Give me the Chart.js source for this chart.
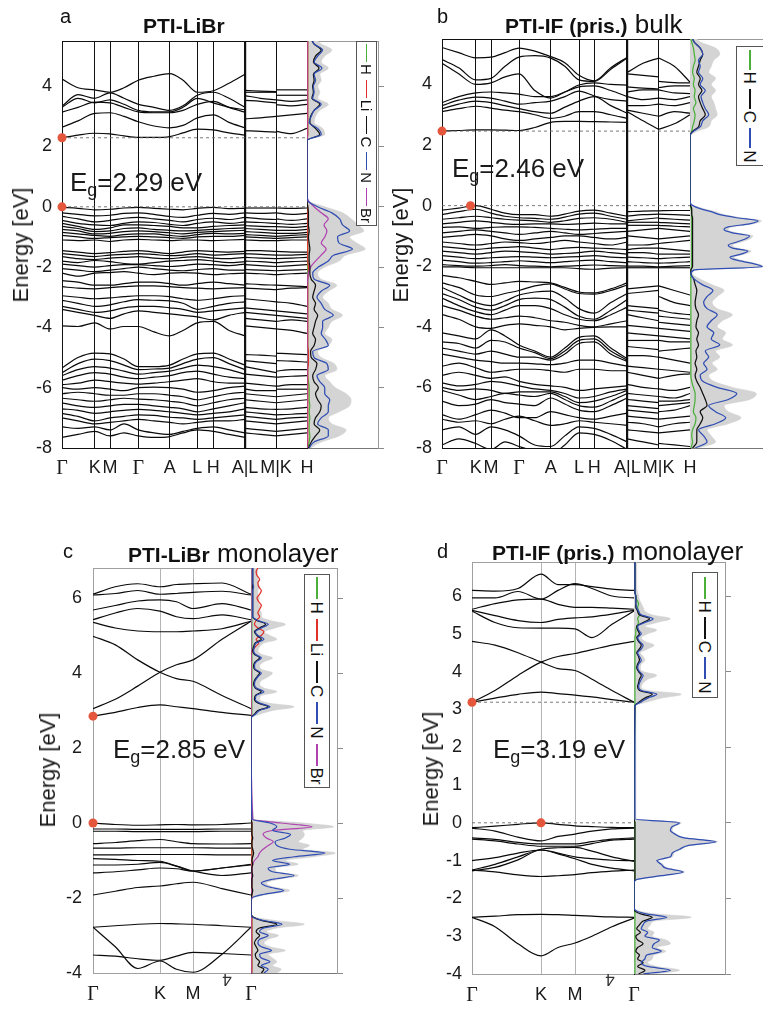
<!DOCTYPE html>
<html><head><meta charset="utf-8"><title>PTI band structures</title>
<script src="https://cdn.jsdelivr.net/npm/chart.js@4.4.1/dist/chart.umd.min.js"></script>
<style>
html,body{margin:0;padding:0;background:#fff;}
body{position:relative;width:763px;height:1010px;overflow:hidden;font-family:"Liberation Sans",Arial,Helvetica,sans-serif;color:#111;}
canvas{position:absolute;}
.t{position:absolute;white-space:nowrap;line-height:1;z-index:5;}
.eg{font-size:26px;color:#1a1a1a;}
.sub{font-size:18px;position:relative;top:5px;}
.yl{font-size:22px;transform:translate(-50%,-50%) rotate(-90deg);color:#1a1a1a;}
</style></head><body>
<div class="t" style="left:60px;top:6px;font-size:20px">a</div>
<div class="t" style="left:143px;top:15px;font-size:21px;font-weight:bold">PTI-LiBr</div>
<div class="t" style="left:437px;top:6px;font-size:20px">b</div>
<div class="t" style="left:505px;top:11px;font-size:26px"><b style="font-size:21px">PTI-IF (pris.)</b> bulk</div>
<div class="t" style="left:63px;top:541px;font-size:20px">c</div>
<div class="t" style="left:128px;top:540px;font-size:26px"><b style="font-size:21px">PTI-LiBr</b> monolayer</div>
<div class="t" style="left:437px;top:541px;font-size:20px">d</div>
<div class="t" style="left:492px;top:538px;font-size:26px"><b style="font-size:21px">PTI-IF (pris.)</b> monolayer</div>
<div class="t eg" style="left:70px;top:169px">E<span class="sub">g</span>=2.29 eV</div>
<div class="t eg" style="left:452px;top:155px">E<span class="sub">g</span>=2.46 eV</div>
<div class="t eg" style="left:113px;top:736px">E<span class="sub">g</span>=2.85 eV</div>
<div class="t eg" style="left:493px;top:736px">E<span class="sub">g</span>=3.19 eV</div>
<div class="t yl" style="left:21px;top:245px">Energy [eV]</div>
<div class="t yl" style="left:401px;top:245px">Energy [eV]</div>
<div class="t yl" style="left:48px;top:770px">Energy [eV]</div>
<div class="t yl" style="left:431px;top:769px">Energy [eV]</div>
<div class="t" style="left:227px;top:979px;font-size:17px;color:#333;transform:translate(-50%,-50%) rotate(180deg)">4</div>
<div class="t" style="left:610px;top:979px;font-size:17px;color:#333;transform:translate(-50%,-50%) rotate(180deg)">4</div>
<script>
// ---------------- DATA ----------------
const kLabelsBulk = ['Γ','K','M','Γ','A','L','H','A|L','M|K','H'];
const kLabelsMono = ['Γ','K','M','Γ'];
const yTicksBulk = [-8,-6,-4,-2,0,2,4];
const yTicksC = [-4,-2,0,2,4,6];
const yTicksD = [-4,-3,-2,-1,0,1,2,3,4,5,6];
const yTicksD_right = [-4,-2,0,2,4,6];

// Panel a: PTI-LiBr bulk
const kTicksA = [0,32.7,48,76.3,107.7,135.3,151.3,183,214,245];
const kMainA = [0,16,32.7,48,62,76.3,92,107.7,121,135.3,151.3,167,183];
const kLMA = [183,198.5,214];
const kKHA = [214,229.5,245];
const gapA = {vbm:[0,0], cbm:[0,2.29]};
const bandsA = [
[2.29,2.38,2.44,2.42,2.35,2.3,2.3,2.33,2.45,2.58,2.55,2.45,2.38, 2.53,2.5,2.48, 2.5,2.43,2.6],
[2.64,2.85,3.1,3.12,3.0,2.82,2.68,2.62,2.7,2.95,3.05,2.8,2.62, 2.92,2.95,3.0, 3.0,3.05,3.1],
[3.14,3.3,3.47,3.45,3.3,3.15,3.12,3.12,3.2,3.4,3.5,3.3,3.14, 3.53,3.5,3.45, 3.39,3.35,3.4],
[3.3,3.6,3.45,3.55,3.4,3.2,3.15,3.15,3.3,3.6,3.45,3.3,3.22, 3.69,3.6,3.55, 3.55,3.5,3.55],
[3.34,3.72,3.6,3.78,3.6,3.4,3.3,3.2,3.35,3.7,3.8,3.6,3.3, 3.8,3.8,3.8, 3.7,3.7,3.7],
[4.24,3.95,3.88,3.8,3.95,4.2,4.33,4.42,4.2,3.8,3.85,4.1,4.4, 3.86,3.84,3.82, 3.88,3.88,3.88],
[-0.02,-0.05,-0.1,-0.08,-0.04,-0.02,-0.05,-0.08,-0.1,-0.05,-0.02,-0.06,-0.05, -0.04,-0.04,-0.04, -0.04,-0.05,-0.04],
[-0.2,-0.25,-0.3,-0.28,-0.22,-0.2,-0.25,-0.32,-0.35,-0.28,-0.22,-0.25,-0.2, -0.2,-0.22,-0.2, -0.2,-0.25,-0.22],
[-0.32,-0.4,-0.5,-0.45,-0.38,-0.35,-0.4,-0.45,-0.5,-0.42,-0.38,-0.42,-0.35, -0.35,-0.4,-0.42, -0.4,-0.45,-0.4],
[-0.45,-0.55,-0.6,-0.62,-0.55,-0.5,-0.52,-0.58,-0.62,-0.55,-0.5,-0.55,-0.5, -0.5,-0.52,-0.55, -0.55,-0.58,-0.55],
[-0.55,-0.65,-0.75,-0.7,-0.6,-0.6,-0.62,-0.65,-0.7,-0.7,-0.65,-0.62,-0.6, -0.62,-0.65,-0.66, -0.66,-0.68,-0.65],
[-0.65,-0.72,-0.82,-0.8,-0.72,-0.7,-0.75,-0.78,-0.8,-0.78,-0.75,-0.72,-0.7, -0.72,-0.75,-0.78, -0.78,-0.78,-0.75],
[-0.75,-0.8,-0.9,-0.88,-0.82,-0.8,-0.82,-0.86,-0.9,-0.85,-0.82,-0.8,-0.78, -0.82,-0.85,-0.88, -0.88,-0.88,-0.85],
[-0.85,-0.9,-0.95,-0.98,-0.92,-0.9,-0.9,-0.95,-0.98,-0.92,-0.88,-0.9,-0.88, -0.92,-0.95,-0.98, -0.98,-0.95,-0.92],
[-0.95,-1.0,-1.05,-1.02,-1.0,-0.98,-1.0,-1.02,-1.05,-1.0,-0.98,-0.98,-0.95, -1.0,-1.02,-1.05, -1.05,-1.02,-1.0],
[-1.1,-1.12,-1.1,-1.15,-1.1,-1.08,-1.1,-1.12,-1.1,-1.1,-1.12,-1.1,-1.08, -1.1,-1.12,-1.12, -1.12,-1.1,-1.1],
[-1.45,-1.5,-1.55,-1.52,-1.48,-1.45,-1.5,-1.55,-1.5,-1.45,-1.48,-1.5,-1.48, -1.45,-1.45,-1.48, -1.48,-1.5,-1.5],
[-1.55,-1.6,-1.65,-1.6,-1.58,-1.55,-1.58,-1.62,-1.6,-1.55,-1.6,-1.58,-1.55, -1.55,-1.58,-1.6, -1.6,-1.6,-1.58],
[-1.65,-1.72,-1.75,-1.7,-1.68,-1.65,-1.7,-1.72,-1.68,-1.65,-1.7,-1.72,-1.68, -1.68,-1.7,-1.72, -1.72,-1.7,-1.68],
[-1.8,-1.85,-1.78,-1.82,-1.88,-1.9,-1.85,-1.8,-1.78,-1.75,-1.8,-1.85,-1.82, -1.8,-1.82,-1.85, -1.85,-1.82,-1.8],
[-1.9,-1.95,-2.0,-1.95,-1.92,-1.92,-1.95,-1.98,-1.95,-1.9,-1.92,-1.95,-1.9, -1.92,-1.95,-1.98, -1.98,-1.95,-1.92],
[-2.05,-2.1,-2.15,-2.1,-2.05,-2.0,-2.05,-2.1,-2.12,-2.08,-2.05,-2.1,-2.1, -2.08,-2.1,-2.12, -2.12,-2.1,-2.08],
[-2.2,-2.3,-2.2,-2.18,-2.15,-2.2,-2.25,-2.2,-2.18,-2.2,-2.25,-2.22,-2.2, -2.2,-2.22,-2.25, -2.25,-2.22,-2.2],
[-2.45,-2.5,-2.6,-2.6,-2.55,-2.5,-2.5,-2.55,-2.6,-2.55,-2.5,-2.55,-2.6, -2.55,-2.58,-2.6, -2.6,-2.62,-2.65],
[-2.65,-2.7,-2.72,-2.68,-2.65,-2.62,-2.62,-2.65,-2.68,-2.7,-2.72,-2.7,-2.68, -2.7,-2.72,-2.75, -2.75,-2.7,-2.68],
[-2.95,-3.0,-3.05,-3.02,-2.98,-2.95,-2.95,-2.98,-3.05,-3.1,-3.05,-2.98,-2.95, -3.05,-3.1,-3.15, -3.15,-3.2,-3.3],
[-3.1,-3.2,-3.3,-3.25,-3.15,-3.08,-3.1,-3.12,-3.2,-3.4,-3.3,-3.2,-3.15, -3.35,-3.4,-3.45, -3.45,-3.5,-3.55],
[-3.3,-3.4,-3.5,-3.45,-3.35,-3.3,-3.3,-3.35,-3.4,-3.5,-3.45,-3.4,-3.35, -3.5,-3.55,-3.6, -3.6,-3.65,-3.7],
[-3.4,-3.5,-3.6,-3.7,-3.55,-3.45,-3.5,-3.55,-3.6,-3.65,-3.75,-3.6,-3.5, -3.7,-3.75,-3.8, -3.8,-3.75,-3.8],
[-3.95,-3.97,-3.85,-4.05,-3.97,-3.97,-4.15,-4.28,-4.1,-3.85,-3.8,-4.1,-4.28, -3.95,-4.0,-4.05, -4.05,-4.1,-4.2],
[-5.35,-5.0,-4.85,-4.88,-5.05,-5.3,-5.3,-5.25,-5.05,-4.88,-4.85,-5.05,-5.25, -4.9,-4.92,-4.95, -4.85,-4.88,-4.9],
[-5.5,-5.2,-5.05,-5.1,-5.25,-5.4,-5.38,-5.35,-5.2,-5.05,-5.0,-5.2,-5.4, -5.1,-5.15,-5.2, -5.1,-5.12,-5.15],
[-5.6,-5.4,-5.3,-5.35,-5.45,-5.55,-5.5,-5.45,-5.35,-5.25,-5.3,-5.4,-5.55, -5.3,-5.4,-5.5, -5.45,-5.4,-5.4],
[-5.75,-5.6,-5.5,-5.55,-5.65,-5.7,-5.65,-5.6,-5.5,-5.45,-5.55,-5.65,-5.7, -5.55,-5.6,-5.65, -5.65,-5.62,-5.6],
[-5.9,-5.85,-5.75,-5.8,-5.85,-5.88,-5.85,-5.8,-5.75,-5.7,-5.8,-5.85,-5.85, -5.85,-5.9,-5.95, -5.95,-5.9,-5.9],
[-6.0,-6.05,-6.0,-6.05,-6.1,-6.0,-5.98,-6.0,-6.05,-6.15,-6.1,-6.0,-5.95, -6.05,-6.1,-6.1, -6.05,-6.05,-6.05],
[-6.2,-6.15,-6.2,-6.25,-6.25,-6.2,-6.2,-6.25,-6.3,-6.4,-6.3,-6.2,-6.15, -6.2,-6.25,-6.3, -6.3,-6.25,-6.2],
[-6.35,-6.4,-6.45,-6.4,-6.35,-6.38,-6.4,-6.45,-6.5,-6.6,-6.5,-6.4,-6.35, -6.4,-6.45,-6.5, -6.5,-6.45,-6.4],
[-6.5,-6.6,-6.65,-6.6,-6.55,-6.55,-6.6,-6.65,-6.7,-6.8,-6.7,-6.6,-6.5, -6.65,-6.7,-6.72, -6.72,-6.7,-6.65],
[-6.7,-6.75,-6.85,-6.8,-6.75,-6.72,-6.75,-6.8,-6.85,-6.9,-6.85,-6.8,-6.7, -6.8,-6.85,-6.9, -6.9,-6.88,-6.85],
[-6.85,-6.95,-7.1,-7.0,-6.95,-6.9,-6.92,-6.98,-7.0,-7.05,-7.0,-6.95,-6.9, -6.95,-7.0,-7.05, -7.05,-7.0,-6.98],
[-7.0,-7.1,-7.2,-7.15,-7.1,-7.05,-7.1,-7.15,-7.2,-7.15,-7.1,-7.1,-7.05, -7.1,-7.15,-7.2, -7.2,-7.15,-7.1],
[-7.3,-7.35,-7.3,-7.4,-7.2,-7.4,-7.5,-7.55,-7.45,-7.35,-7.3,-7.4,-7.5, -7.35,-7.4,-7.45, -7.45,-7.4,-7.35],
[-7.65,-7.55,-7.45,-7.6,-7.5,-7.6,-7.65,-7.62,-7.5,-7.4,-7.45,-7.55,-7.65, -7.5,-7.55,-7.6, -7.6,-7.55,-7.5]
];
const dosEA = [-8,-7.8,-7.6,-7.4,-7.2,-7,-6.8,-6.6,-6.4,-6.2,-6,-5.8,-5.6,-5.4,-5.2,-5,-4.8,-4.6,-4.4,-4.2,-4,-3.8,-3.6,-3.4,-3.2,-3,-2.8,-2.6,-2.4,-2.2,-2,-1.8,-1.6,-1.4,-1.2,-1,-0.8,-0.6,-0.4,-0.2,0,0.2,0.4,2.2,2.4,2.6,2.8,3,3.2,3.4,3.6,3.8,4,4.2,4.4,4.6,4.8,5,5.2,5.4,5.5];
const dosTotA = [0.05,0.2,0.45,0.55,0.35,0.3,0.45,0.6,0.62,0.55,0.4,0.32,0.25,0.42,0.38,0.2,0.15,0.3,0.35,0.25,0.3,0.35,0.5,0.35,0.3,0.22,0.3,0.42,0.2,0.15,0.25,0.45,0.55,0.82,0.7,0.6,0.8,0.72,0.62,0.5,0.25,0.02,0,0,0.25,0.22,0.1,0.12,0.18,0.3,0.15,0.18,0.15,0.2,0.18,0.3,0.2,0.25,0.35,0.2,0.15];
const dosNA = [0.03,0.1,0.3,0.3,0.15,0.2,0.3,0.3,0.32,0.25,0.25,0.18,0.14,0.3,0.28,0.1,0.08,0.3,0.26,0.2,0.22,0.22,0.37,0.25,0.2,0.14,0.2,0.32,0.1,0.08,0.16,0.3,0.38,0.64,0.45,0.43,0.6,0.5,0.46,0.35,0.15,0.01,0,0,0.2,0.15,0.03,0.06,0.1,0.2,0.08,0.1,0.09,0.12,0.1,0.21,0.1,0.15,0.22,0.1,0.08];
const dosCA = [0.02,0.06,0.12,0.18,0.1,0.12,0.18,0.2,0.15,0.12,0.16,0.1,0.08,0.12,0.14,0.06,0.05,0.1,0.12,0.08,0.1,0.12,0.15,0.1,0.12,0.08,0.1,0.12,0.06,0.04,0.04,0.03,0.03,0.04,0.03,0.02,0.03,0.02,0.02,0.02,0.01,0,0,0,0.18,0.12,0.04,0.05,0.1,0.18,0.07,0.09,0.08,0.1,0.09,0.17,0.09,0.12,0.2,0.1,0.07];
const dosBrA = [0,0,0,0,0,0,0,0,0,0,0,0,0,0,0,0,0,0,0,0,0,0,0,0,0,0,0,0,0.01,0.02,0.05,0.12,0.2,0.27,0.2,0.25,0.28,0.24,0.3,0.2,0.1,0.02,0,0,0,0,0,0,0,0,0,0,0,0,0,0,0,0,0,0,0];
const dosLiA = [0,0.01,0.01,0.01,0.01,0.01,0.01,0.01,0.01,0.01,0.01,0.01,0.01,0.01,0.02,0.02,0.02,0.01,0.01,0.01,0.01,0.01,0.01,0.01,0.01,0.01,0.01,0.01,0.01,0.02,0.02,0.01,0.01,0.01,0.01,0.01,0.01,0.01,0.01,0.01,0.01,0,0,0,0.01,0.01,0.01,0.01,0.01,0.01,0.01,0.01,0.01,0.01,0.01,0.01,0.01,0.01,0.01,0.01,0.01];
const dosHA = [0.01,0.03,0.04,0.03,0.03,0.04,0.03,0.04,0.03,0.03,0.03,0.02,0.01,0.01,0.01,0.01,0.01,0.01,0.01,0.01,0.01,0.01,0.01,0.01,0.01,0.01,0.01,0.01,0.01,0.01,0.01,0.01,0.01,0.01,0.01,0.01,0.01,0.01,0.01,0.01,0.01,0,0,0,0.01,0.01,0.01,0.01,0.01,0.01,0.01,0.01,0.01,0.01,0.01,0.01,0.01,0.01,0.01,0.01,0.01];

// Panel b: PTI-IF (pris.) bulk
const kTicksB = [0,33.7,49,77,108.7,137,152.3,185.3,216.7,248];
const kMainB = [0,16.7,33.7,49,63,77,92.8,108.7,122.8,137,152.3,168.8,185.3];
const kLMB = [185.3,201,216.7];
const kKHB = [216.7,232.3,248];
const gapB = {vbm:[28.5,0], cbm:[0,2.46]};
const bandsB = [
[2.46,2.48,2.5,2.5,2.49,2.48,2.58,2.75,2.78,2.78,2.77,2.76,2.75, 3.1,2.8,2.52, 2.52,2.7,3.0],
[3.1,3.2,3.28,3.22,3.15,3.1,3.0,2.88,2.95,3.1,3.1,3.0,2.88, 3.15,3.05,2.95, 2.95,3.1,3.05],
[3.2,3.35,3.45,3.4,3.3,3.2,3.1,3.05,3.25,3.45,3.6,3.3,3.05, 3.3,3.3,3.35, 3.35,3.3,3.4],
[3.3,3.48,3.58,3.55,3.45,3.35,3.4,3.45,3.6,3.78,3.62,3.5,3.45, 3.6,3.5,3.55, 3.55,3.5,3.6],
[3.4,3.6,3.72,3.75,3.72,3.68,3.6,3.6,3.75,3.92,3.95,3.8,3.6, 3.75,3.82,3.82, 3.82,3.72,3.7],
[4.7,4.35,4.0,4.05,4.25,4.35,3.8,3.55,3.75,3.98,4.05,4.0,3.98, 3.92,3.88,3.85, 3.9,3.95,3.95],
[4.82,4.55,4.15,4.2,4.6,4.9,4.95,4.87,4.6,4.15,4.1,4.5,4.87, 4.4,4.7,4.87, 4.87,4.6,4.08],
[5.22,5.05,4.88,4.9,5.05,5.2,5.1,4.92,4.72,4.3,4.12,4.55,4.9, 4.35,4.3,4.25, 4.1,4.06,4.05],
[-0.15,-0.08,0.0,-0.12,-0.25,-0.3,-0.3,-0.35,-0.28,-0.18,-0.15,-0.25,-0.35, -0.2,-0.18,-0.17, -0.17,-0.16,-0.16],
[-0.3,-0.2,-0.12,-0.25,-0.35,-0.4,-0.42,-0.45,-0.38,-0.28,-0.25,-0.35,-0.45, -0.35,-0.3,-0.28, -0.28,-0.3,-0.32],
[-0.45,-0.4,-0.35,-0.4,-0.45,-0.48,-0.5,-0.55,-0.5,-0.42,-0.4,-0.45,-0.55, -0.5,-0.45,-0.4, -0.42,-0.45,-0.48],
[-0.6,-0.55,-0.5,-0.55,-0.6,-0.62,-0.6,-0.6,-0.62,-0.6,-0.58,-0.6,-0.6, -0.55,-0.55,-0.55, -0.55,-0.58,-0.6],
[-0.72,-0.7,-0.75,-0.72,-0.7,-0.7,-0.72,-0.75,-0.78,-0.8,-0.78,-0.75,-0.75, -0.65,-0.65,-0.65, -0.65,-0.68,-0.7],
[-0.9,-0.85,-0.8,-0.85,-0.9,-0.95,-0.9,-0.85,-0.9,-0.95,-0.92,-0.88,-0.85, -0.85,-0.8,-0.75, -0.75,-0.8,-0.85],
[-1.05,-1.0,-0.95,-1.0,-1.1,-1.15,-1.1,-1.05,-1.0,-1.0,-1.05,-1.1,-1.05, -1.0,-1.05,-1.1, -1.1,-1.05,-1.0],
[-1.2,-1.25,-1.3,-1.25,-1.2,-1.22,-1.25,-1.2,-1.15,-1.2,-1.25,-1.3,-1.2, -1.3,-1.3,-1.25, -1.25,-1.2,-1.15],
[-1.35,-1.4,-1.45,-1.4,-1.38,-1.35,-1.4,-1.45,-1.4,-1.38,-1.4,-1.42,-1.45, -1.45,-1.4,-1.4, -1.4,-1.45,-1.5],
[-1.5,-1.55,-1.6,-1.55,-1.5,-1.52,-1.55,-1.6,-1.58,-1.55,-1.5,-1.55,-1.6, -1.55,-1.55,-1.6, -1.6,-1.6,-1.6],
[-1.65,-1.7,-1.75,-1.72,-1.7,-1.68,-1.7,-1.72,-1.7,-1.68,-1.65,-1.7,-1.72, -1.7,-1.72,-1.75, -1.75,-1.72,-1.7],
[-1.8,-1.85,-1.9,-1.88,-1.85,-1.82,-1.85,-1.88,-1.85,-1.82,-1.8,-1.85,-1.88, -1.85,-1.88,-1.9, -1.9,-1.88,-1.85],
[-1.95,-1.98,-2.0,-1.98,-1.95,-1.98,-2.0,-2.02,-2.0,-1.98,-1.96,-1.98,-2.0, -2.0,-2.0,-2.02, -2.02,-2.0,-1.98],
[-2.02,-2.02,-2.05,-2.05,-2.05,-2.05,-2.05,-2.05,-2.05,-2.08,-2.1,-2.06,-2.05, -2.05,-2.05,-2.05, -2.05,-2.05,-2.05],
[-2.3,-2.38,-2.5,-2.6,-2.55,-2.5,-2.52,-2.55,-2.7,-2.85,-2.88,-2.75,-2.55, -2.75,-2.7,-2.65, -2.65,-2.8,-2.95],
[-2.55,-2.7,-2.95,-3.0,-2.9,-2.8,-2.65,-2.58,-2.75,-2.9,-2.92,-2.8,-2.62, -2.9,-2.85,-2.8, -3.0,-3.2,-3.3],
[-2.7,-2.95,-3.2,-3.3,-3.15,-2.95,-2.85,-2.82,-3.05,-3.4,-3.55,-3.2,-2.9, -3.3,-3.35,-3.4, -3.45,-3.55,-3.6],
[-2.9,-3.1,-3.35,-3.45,-3.3,-3.1,-3.05,-3.1,-3.35,-3.65,-3.75,-3.45,-3.1, -3.45,-3.5,-3.55, -3.65,-3.7,-3.75],
[-3.05,-3.3,-3.5,-3.6,-3.45,-3.3,-3.3,-3.4,-3.6,-3.75,-3.8,-3.6,-3.35, -3.6,-3.7,-3.8, -3.85,-3.9,-3.95],
[-3.3,-3.45,-3.65,-3.75,-3.7,-3.65,-3.7,-3.8,-3.85,-3.95,-4.0,-3.9,-3.8, -3.95,-4.0,-4.05, -4.05,-4.1,-4.15],
[-3.6,-3.75,-4.0,-4.05,-3.95,-3.9,-3.95,-4.0,-4.1,-4.05,-4.02,-4.0,-4.0, -4.2,-4.25,-4.3, -4.3,-4.35,-4.4],
[-4.2,-4.3,-4.4,-4.1,-4.3,-4.6,-4.8,-5.0,-4.7,-4.35,-4.3,-4.7,-5.05, -4.45,-4.45,-4.45, -4.45,-4.5,-4.5],
[-4.5,-4.55,-4.7,-4.45,-4.5,-4.7,-4.85,-5.05,-4.8,-4.45,-4.4,-4.8,-5.1, -4.65,-4.7,-4.75, -4.8,-4.75,-4.7],
[-4.7,-4.8,-4.9,-4.8,-4.9,-5.0,-5.0,-5.1,-4.9,-4.55,-4.5,-4.9,-5.15, -4.95,-4.95,-5.0, -5.0,-5.1,-5.2],
[-4.9,-5.0,-5.1,-5.15,-5.2,-5.2,-5.22,-5.25,-5.2,-5.1,-5.1,-5.2,-5.3, -5.3,-5.35,-5.4, -5.4,-5.45,-5.5],
[-5.3,-5.2,-5.35,-5.5,-5.45,-5.4,-5.4,-5.45,-5.5,-5.4,-5.4,-5.45,-5.45, -5.5,-5.6,-5.7, -5.7,-5.6,-5.55],
[-5.6,-5.5,-5.6,-5.7,-5.65,-5.8,-5.9,-5.95,-6.0,-6.1,-6.05,-6.0,-5.95, -5.9,-6.0,-6.05, -6.05,-6.1,-6.0],
[-5.85,-5.95,-5.9,-5.8,-5.85,-5.95,-6.05,-6.1,-6.2,-6.35,-6.3,-6.15,-6.05, -6.2,-6.25,-6.3, -6.3,-6.35,-6.2],
[-6.0,-6.1,-6.05,-6.1,-6.2,-6.15,-6.15,-6.15,-6.3,-6.5,-6.45,-6.3,-6.1, -6.4,-6.45,-6.5, -6.45,-6.45,-6.4],
[-6.1,-6.25,-6.4,-6.3,-6.2,-6.25,-6.3,-6.2,-6.4,-6.6,-6.65,-6.45,-6.2, -6.6,-6.65,-6.7, -6.6,-6.55,-6.5],
[-6.45,-6.6,-6.55,-6.4,-6.5,-6.55,-6.6,-6.35,-6.55,-6.75,-6.8,-6.6,-6.35, -6.75,-6.8,-6.85, -6.8,-6.75,-6.6],
[-6.9,-7.05,-6.9,-6.75,-6.85,-7.0,-7.0,-6.8,-6.9,-7.0,-7.05,-6.95,-6.85, -6.95,-7.0,-7.05, -7.05,-7.0,-6.95],
[-7.05,-7.15,-7.1,-7.2,-7.05,-6.95,-7.1,-7.25,-7.2,-7.1,-7.15,-7.2,-7.25, -7.15,-7.2,-7.3, -7.3,-7.2,-7.15],
[-7.4,-7.3,-7.55,-7.3,-7.4,-7.6,-7.9,-7.95,-7.6,-7.3,-7.35,-7.55,-7.8, -7.4,-7.45,-7.5, -7.5,-7.45,-7.4],
[-7.9,-7.7,-7.85,-8.05,-7.8,-7.95,-8.1,-8.2,-7.9,-7.5,-7.55,-7.75,-8.05, -7.7,-7.8,-7.9, -7.85,-7.9,-7.95]
];
const dosEB = [-8,-7.8,-7.6,-7.4,-7.2,-7,-6.8,-6.6,-6.4,-6.2,-6,-5.8,-5.6,-5.4,-5.2,-5,-4.8,-4.6,-4.4,-4.2,-4,-3.8,-3.6,-3.4,-3.2,-3,-2.8,-2.6,-2.4,-2.25,-2.12,-2.02,-1.9,-1.8,-1.7,-1.6,-1.5,-1.4,-1.3,-1.2,-1.1,-1,-0.9,-0.8,-0.7,-0.6,-0.5,-0.4,-0.3,-0.2,-0.1,0.05,0.2,2.3,2.45,2.6,2.8,3,3.2,3.4,3.6,3.8,4,4.2,4.4,4.6,4.8,5,5.2,5.4,5.5];
const dosNB = [0.06,0.2,0.16,0.1,0.3,0.42,0.3,0.22,0.45,0.55,0.32,0.15,0.12,0.2,0.16,0.22,0.18,0.35,0.25,0.28,0.2,0.25,0.32,0.2,0.16,0.2,0.27,0.14,0.04,0.01,0.05,0.85,0.72,0.55,0.47,0.6,0.68,0.5,0.45,0.55,0.65,0.7,0.5,0.4,0.45,0.7,0.8,0.55,0.35,0.25,0.12,0.01,0,0,0.04,0.12,0.15,0.22,0.18,0.15,0.13,0.18,0.12,0.15,0.1,0.12,0.1,0.15,0.12,0.05,0.03];
const dosTotB = [0.1,0.3,0.25,0.2,0.45,0.6,0.45,0.4,0.7,0.78,0.5,0.28,0.22,0.32,0.26,0.35,0.3,0.5,0.38,0.42,0.32,0.38,0.5,0.32,0.26,0.32,0.4,0.25,0.1,0.03,0.07,0.88,0.76,0.6,0.52,0.64,0.72,0.55,0.5,0.6,0.7,0.74,0.55,0.45,0.5,0.74,0.84,0.6,0.4,0.3,0.16,0.02,0,0,0.08,0.22,0.25,0.32,0.3,0.28,0.25,0.3,0.25,0.3,0.22,0.25,0.28,0.35,0.3,0.12,0.08];
const dosCB = [0.03,0.08,0.08,0.08,0.12,0.15,0.12,0.2,0.18,0.15,0.12,0.08,0.06,0.08,0.06,0.08,0.07,0.1,0.08,0.1,0.07,0.08,0.1,0.07,0.06,0.07,0.08,0.06,0.04,0.01,0.01,0.03,0.03,0.03,0.03,0.03,0.03,0.03,0.03,0.03,0.03,0.03,0.03,0.03,0.03,0.03,0.03,0.03,0.02,0.02,0.02,0,0,0,0.03,0.1,0.12,0.18,0.15,0.12,0.1,0.14,0.1,0.12,0.08,0.1,0.12,0.15,0.12,0.05,0.03];
const dosHB = [0.01,0.03,0.02,0.03,0.06,0.07,0.04,0.05,0.06,0.06,0.04,0.02,0.01,0.01,0.01,0.01,0.01,0.01,0.01,0.01,0.01,0.01,0.01,0.01,0.01,0.01,0.01,0.01,0.01,0.01,0.01,0.02,0.02,0.02,0.02,0.02,0.02,0.02,0.02,0.02,0.02,0.02,0.02,0.02,0.02,0.02,0.02,0.02,0.02,0.02,0.01,0,0,0,0.02,0.03,0.05,0.06,0.04,0.07,0.05,0.06,0.04,0.05,0.03,0.04,0.06,0.05,0.04,0.02,0.01];

// Panel c: PTI-LiBr monolayer
const kTicksC = [0,67,100,158];
const kMainC = [0,22.3,44.7,67,83.5,100,129,158];
const gapC = {vbm:[0,0], cbm:[0,2.85]};
const bandsC = [
[2.85,2.95,3.08,3.15,3.1,3.05,2.95,2.87],
[3.05,3.3,3.65,4.02,4.22,4.35,4.9,5.38],
[4.98,4.75,4.35,4.02,3.85,3.78,3.4,3.05],
[5.35,5.2,5.12,5.1,5.1,5.12,5.18,5.38],
[5.42,5.6,5.72,5.65,5.5,5.45,5.55,5.42],
[5.68,5.8,5.92,5.95,5.9,5.72,5.85,5.68],
[6.1,6.3,6.38,6.3,6.36,6.38,6.4,6.1],
[6.08,6.12,6.2,6.1,6.12,6.15,6.18,6.08],
[0,-0.04,-0.06,-0.05,-0.04,-0.05,-0.04,0],
[-0.16,-0.16,-0.17,-0.17,-0.17,-0.17,-0.16,-0.16],
[-0.22,-0.22,-0.23,-0.23,-0.23,-0.23,-0.22,-0.22],
[-0.55,-0.52,-0.47,-0.44,-0.5,-0.55,-0.56,-0.55],
[-0.67,-0.67,-0.66,-0.66,-0.66,-0.66,-0.67,-0.67],
[-0.85,-0.85,-0.84,-0.84,-0.84,-0.84,-0.85,-0.85],
[-0.95,-0.97,-1.0,-1.02,-1.15,-1.28,-1.2,-1.12],
[-1.12,-1.12,-1.1,-1.05,-1.15,-1.28,-1.4,-1.33],
[-1.33,-1.3,-1.25,-1.2,-1.22,-1.28,-1.2,-1.1],
[-1.92,-1.82,-1.72,-1.68,-1.62,-1.58,-1.75,-1.92],
[-2.78,-2.74,-2.7,-2.68,-2.69,-2.7,-2.74,-2.78],
[-2.78,-3.3,-3.88,-3.68,-3.9,-3.98,-3.5,-2.78],
[-3.52,-3.55,-3.62,-3.66,-3.55,-3.45,-3.48,-3.52]
];
const dosEC = [-4,-3.9,-3.8,-3.7,-3.6,-3.5,-3.4,-3.3,-3.2,-3.1,-3,-2.9,-2.8,-2.7,-2.6,-2.5,-2.4,-2.3,-2.2,-2.1,-2,-1.9,-1.8,-1.7,-1.6,-1.5,-1.4,-1.3,-1.2,-1.1,-1,-0.9,-0.8,-0.7,-0.6,-0.5,-0.4,-0.3,-0.2,-0.1,0,0.1,2.8,2.9,3,3.1,3.2,3.3,3.4,3.5,3.6,3.7,3.8,3.9,4,4.1,4.2,4.3,4.4,4.5,4.6,4.7,4.8,4.9,5,5.1,5.2,5.3,5.4,5.5,5.6,5.7,5.8,5.9,6,6.1,6.2,6.3,6.4,6.5,6.6,6.7,6.8];
const dosNC = [0.15,0.2,0.12,0.22,0.12,0.1,0.24,0.12,0.08,0.1,0.2,0.1,0.15,0.36,0.15,0.01,0,0,0,0,0.01,0.15,0.38,0.2,0.12,0.25,0.5,0.25,0.2,0.45,0.25,0.5,0.86,0.45,0.3,0.28,0.4,0.46,0.25,0.3,0.22,0.01,
 0,0.05,0.1,0.22,0.1,0.05,0.06,0.15,0.06,0.04,0.05,0.08,0.12,0.05,0.04,0.06,0.12,0.05,0.03,0.04,0.06,0.15,0.08,0.05,0.12,0.2,0.08,0.02,0.02,0.02,0.02,0.02,0.02,0.02,0.02,0.03,0.02,0.02,0.02,0.02,0.02];
const dosTotC = [0.3,0.35,0.25,0.3,0.25,0.2,0.4,0.22,0.15,0.2,0.32,0.18,0.3,0.62,0.28,0.03,0,0,0,0,0.02,0.2,0.45,0.25,0.18,0.32,0.55,0.3,0.28,0.55,0.4,0.72,0.98,0.6,0.68,0.55,0.6,0.62,0.6,0.96,0.6,0.03,
 0,0.1,0.25,0.5,0.2,0.1,0.12,0.3,0.15,0.1,0.12,0.2,0.25,0.12,0.1,0.15,0.25,0.12,0.08,0.1,0.15,0.3,0.22,0.15,0.28,0.4,0.22,0.12,0.12,0.1,0.1,0.08,0.1,0.08,0.08,0.1,0.08,0.08,0.07,0.08,0.07];
const dosBrC = [0,0,0,0,0,0,0,0,0,0,0,0,0,0,0,0,0,0,0,0,0,0,0,0,0.01,0.01,0.01,0.01,0.01,0.02,0.04,0.08,0.1,0.14,0.2,0.26,0.18,0.14,0.25,0.71,0.35,0.02,
 0,0,0,0,0,0,0,0,0,0,0,0,0,0,0,0,0,0,0,0,0,0,0,0,0,0,0,0,0,0,0,0,0,0,0,0,0,0,0,0,0];
const dosCC = [0.12,0.15,0.08,0.1,0.06,0.05,0.08,0.06,0.04,0.06,0.1,0.06,0.1,0.3,0.12,0.02,0,0,0,0,0,0.01,0.02,0.01,0.01,0.01,0.02,0.01,0.01,0.02,0.01,0.02,0.03,0.02,0.01,0.01,0.02,0.01,0.01,0.01,0.01,0,
 0,0.04,0.08,0.2,0.08,0.04,0.05,0.12,0.05,0.03,0.04,0.07,0.1,0.04,0.03,0.05,0.1,0.04,0.02,0.03,0.05,0.12,0.07,0.04,0.1,0.17,0.07,0.02,0.02,0.02,0.02,0.02,0.02,0.02,0.02,0.02,0.02,0.02,0.02,0.02,0.02];
const dosLiC = [0.01,0.01,0.01,0.01,0.01,0.01,0.01,0.01,0.01,0.01,0.01,0.01,0.01,0.01,0.01,0.01,0,0,0,0,0.01,0.01,0.01,0.01,0.01,0.01,0.01,0.01,0.01,0.01,0.01,0.01,0.01,0.01,0.01,0.01,0.01,0.01,0.01,0.01,0.01,0,
 0,0,0,0,0,0,0,0,0,0,0,0,0,0,0,0,0,0,0.02,0.05,0.09,0.06,0.12,0.15,0.08,0.04,0.06,0.1,0.08,0.1,0.12,0.09,0.07,0.1,0.12,0.09,0.08,0.1,0.07,0.06,0.08];
const dosHC = [0.01,0.01,0.01,0.01,0.01,0.01,0.01,0.01,0.01,0.01,0.01,0.01,0.01,0.01,0.01,0.01,0,0,0,0,0,0.01,0.01,0.01,0.01,0.01,0.01,0.01,0.01,0.01,0.01,0.01,0.01,0.01,0.01,0.01,0.01,0.01,0.01,0.01,0.01,0,
 0,0.01,0.01,0.01,0.01,0.01,0.01,0.01,0.01,0.01,0.01,0.01,0.01,0.01,0.01,0.01,0.01,0.01,0.01,0.01,0.01,0.01,0.01,0.01,0.01,0.01,0.01,0.01,0.01,0.01,0.01,0.01,0.01,0.01,0.01,0.01,0.01,0.01,0.01,0.01,0.01];

// Panel d: PTI-IF (pris.) monolayer
const kTicksD = [0,69,103,162];
const kMainD = [0,23,46,69,86,103,120,140,162];
const gapD = {vbm:[69,0], cbm:[0,3.19]};
const bandsD = [
[3.19,3.3,3.4,3.46,3.42,3.38,3.33,3.26,3.19],
[3.19,3.5,3.9,4.25,4.4,4.48,4.58,4.7,4.8],
[4.8,4.7,4.5,4.25,4.08,4.03,3.8,3.5,3.19],
[5.6,5.3,5.16,5.15,5.15,5.13,4.9,5.25,5.6],
[5.62,5.48,5.35,5.3,5.38,5.42,5.45,5.52,5.62],
[5.65,5.8,5.9,5.92,5.78,5.7,5.7,5.68,5.65],
[5.95,5.95,6.12,5.92,6.15,6.33,6.2,6.0,5.95],
[6.15,6.13,6.2,6.58,6.3,6.3,6.25,6.18,6.15],
[-0.13,-0.09,-0.04,0,-0.04,-0.08,-0.1,-0.12,-0.13],
[-0.14,-0.22,-0.38,-0.48,-0.36,-0.3,-0.22,-0.16,-0.14],
[-0.4,-0.44,-0.52,-0.56,-0.56,-0.56,-0.5,-0.43,-0.4],
[-0.43,-0.48,-0.56,-0.62,-0.62,-0.62,-0.55,-0.46,-0.43],
[-1.0,-0.92,-0.8,-0.72,-0.8,-0.9,-0.95,-0.99,-1.0],
[-1.25,-1.1,-0.9,-0.7,-0.66,-0.65,-0.75,-0.9,-1.02],
[-1.25,-1.3,-1.38,-1.42,-1.4,-1.37,-1.32,-1.28,-1.25],
[-1.27,-1.18,-0.98,-0.72,-0.82,-0.95,-1.1,-1.2,-1.27],
[-2.5,-2.47,-2.43,-2.42,-2.43,-2.45,-2.47,-2.49,-2.5],
[-2.5,-2.75,-3.2,-3.52,-3.3,-3.18,-3.0,-2.75,-2.52]
];
const dosED = [-4,-3.9,-3.8,-3.7,-3.6,-3.5,-3.4,-3.3,-3.2,-3.1,-3,-2.9,-2.8,-2.7,-2.6,-2.5,-2.4,-2.3,-2.2,-2.1,-2,-1.9,-1.8,-1.7,-1.6,-1.5,-1.4,-1.3,-1.2,-1.1,-1,-0.9,-0.8,-0.7,-0.6,-0.5,-0.4,-0.3,-0.2,-0.1,0,0.1,3.1,3.2,3.3,3.4,3.5,3.6,3.7,3.8,3.9,4,4.1,4.2,4.3,4.4,4.5,4.6,4.7,4.8,4.9,5,5.1,5.2,5.3,5.4,5.5,5.6,5.7,5.8,5.9,6,6.1,6.2,6.3,6.4,6.5,6.6,6.7,6.8,6.9];
const dosND = [0.1,0.4,0.15,0.08,0.12,0.14,0.3,0.2,0.22,0.28,0.12,0.15,0.08,0.1,0.14,0.36,0.12,0.01,0,0,0,0,0,0,0,0.03,0.3,0.54,0.35,0.3,0.25,0.4,0.42,0.5,0.6,0.9,0.55,0.45,0.4,0.42,0.5,0.01,
 0.01,0.08,0.15,0.25,0.08,0.05,0.06,0.08,0.1,0.06,0.04,0.05,0.08,0.06,0.04,0.08,0.1,0.06,0.04,0.08,0.05,0.04,0.12,0.21,0.08,0.05,0.03,0.02,0.02,0.02,0.01,0.01,0.01,0.01,0.01,0.01,0.01,0.01,0.01];
const dosTotD = [0.2,0.5,0.25,0.15,0.2,0.22,0.35,0.25,0.4,0.35,0.2,0.22,0.15,0.18,0.22,0.63,0.2,0.02,0,0,0,0,0,0,0,0.04,0.32,0.56,0.37,0.32,0.27,0.42,0.44,0.52,0.62,0.92,0.57,0.47,0.42,0.44,0.52,0.02,
 0.02,0.15,0.3,0.52,0.15,0.08,0.1,0.15,0.25,0.1,0.07,0.08,0.12,0.1,0.07,0.15,0.22,0.12,0.08,0.15,0.25,0.12,0.25,0.4,0.2,0.12,0.1,0.08,0.06,0.05,0.04,0.03,0.03,0.03,0.03,0.03,0.03,0.03,0.03];
const dosCD = [0.05,0.12,0.04,0.1,0.04,0.06,0.02,0.04,0.1,0.04,0.02,0.07,0.03,0.06,0.1,0.2,0.06,0,0,0,0,0,0,0,0,0.01,0.01,0.01,0.01,0.01,0.01,0.01,0.01,0.01,0.01,0.01,0.01,0.01,0.01,0.01,0.01,0,
 0.01,0.06,0.12,0.2,0.06,0.04,0.05,0.06,0.08,0.05,0.03,0.04,0.06,0.05,0.03,0.06,0.08,0.05,0.03,0.06,0.04,0.03,0.1,0.17,0.06,0.04,0.02,0.02,0.02,0.02,0.01,0.01,0.01,0.01,0.01,0.01,0.01,0.01,0.01];
const dosHD = [0.01,0.01,0.01,0.01,0.01,0.01,0.01,0.01,0.01,0.01,0.01,0.01,0.01,0.01,0.01,0.01,0.01,0,0,0,0,0,0,0,0,0.01,0.01,0.01,0.01,0.01,0.01,0.01,0.01,0.01,0.01,0.01,0.01,0.01,0.01,0.01,0.01,0,
 0.01,0.01,0.01,0.01,0.01,0.01,0.01,0.01,0.01,0.01,0.01,0.01,0.01,0.01,0.01,0.01,0.01,0.01,0.01,0.02,0.02,0.03,0.05,0.04,0.06,0.05,0.04,0.05,0.03,0.02,0.01,0.01,0.01,0.01,0.01,0.01,0.01,0.01,0.01];

// ---------------- STYLE ----------------
const SANS = '"Liberation Sans", Arial, Helvetica, sans-serif';
const SERIF = '"Liberation Serif", "Times New Roman", serif';
const COL = {H:'#4bb03a', Li:'#e0302a', C:'#111111', N:'#2f4db3', Br:'#b042b0', tot:'#d4d4d4', dot:'#e4573d'};
Chart.defaults.font.family = SANS;
Chart.defaults.animation = false;

function addCanvas(left, top, w, h) {
  const cv = document.createElement('canvas');
  cv.width = w; cv.height = h;
  cv.style.left = left + 'px'; cv.style.top = top + 'px';
  cv.style.width = w + 'px'; cv.style.height = h + 'px';
  document.body.appendChild(cv);
  return cv;
}

function bandChart(c) {
  const padT = 24, padR = 20, padB = 34;
  const w = (c.r - c.l) + c.padL + padR, h = (c.b - c.t) + padT + padB;
  const cv = addCanvas(c.l - c.padL, c.t - padT, w, h);
  const kEnd = c.kTicks[c.kTicks.length - 1];
  const ds = [];
  ds.push({data:[{x:c.gap.cbm[0],y:c.gap.cbm[1]},{x:c.gap.vbm[0],y:c.gap.vbm[1]}], showLine:false,
    pointRadius:4.5, pointBackgroundColor:COL.dot, pointBorderWidth:0, clip:false});
  c.dashes.forEach(e => ds.push({data:[{x:0,y:e},{x:kEnd,y:e}], showLine:true, borderColor:'#6a6a6a',
    borderWidth:0.9, borderDash:[3,3], pointRadius:0}));
  c.bands.forEach(vals => {
    let i = 0;
    c.kGroups.forEach(g => {
      const pts = g.map(k => ({x:k, y:vals[i++]}));
      ds.push({data:pts, showLine:true, borderColor:'#0a0a0a', borderWidth:1.2, pointRadius:0,
        cubicInterpolationMode:'monotone'});
    });
  });
  new Chart(cv, {
    type:'scatter',
    data:{datasets:ds},
    options:{
      responsive:false, animation:false, events:[],
      layout:{padding:{top:padT, right:padR, left:0, bottom:0}},
      plugins:{legend:{display:false}, tooltip:{enabled:false}},
      scales:{
        x:{type:'linear', position:'bottom', min:0, max:kEnd,
          afterBuildTicks:s => { s.ticks = c.kTicks.map(v => ({value:v})); },
          afterFit:s => { s.height = padB; },
          ticks:{autoSkip:false, maxRotation:0, minRotation:0, padding:c.xPad, color:'#1a1a1a',
            callback:(v, i) => c.kLabels[i],
            font:ctx => (c.kLabels[ctx.index] === 'Γ') ? {family:SERIF, size:20} : {family:SANS, size:18}},
          grid:{display:true, color:c.gridColor, drawTicks:false,
            lineWidth:ctx => (ctx.index === c.thick ? 2.2 : 1)},
          border:{display:true, color:c.frame, width:1}},
        xt:{type:'linear', position:'top', min:0, max:1, ticks:{display:false}, grid:{display:false},
          border:{display:true, color:c.frame, width:1}, afterFit:s => { s.height = 0; }},
        y:{type:'linear', position:'left', min:c.ymin, max:c.ymax,
          afterBuildTicks:s => { s.ticks = c.yTicks.map(v => ({value:v})); },
          afterFit:s => { s.width = c.padL; },
          ticks:{padding:c.yPad, color:'#1a1a1a', font:{family:SANS, size:18}},
          grid:{display:false, drawTicks:false},
          border:{display:true, color:c.frame, width:1}}
      }
    }
  });
}

function dosChart(c) {
  const padL = 4, padT = 4, padR = 10, padB = 4;
  const w = (c.r - c.l) + padL + padR, h = (c.b - c.t) + padT + padB;
  const cv = addCanvas(c.l - padL, c.t - padT, w, h);
  const mk = (vals, color, width) => ({data:c.E.map((e, i) => ({x:vals[i], y:e})), borderColor:color,
    borderWidth:width, pointRadius:0, fill:false, cubicInterpolationMode:'monotone'});
  const ds = c.series.map(s => mk(s[0], s[1], 1.25));
  const tot = mk(c.total, '#cfcfcf', 0.6);
  tot.fill = 'origin'; tot.backgroundColor = COL.tot;
  ds.push(tot);
  new Chart(cv, {
    type:'line',
    data:{datasets:ds},
    options:{
      indexAxis:'y', responsive:false, animation:false, events:[],
      layout:{padding:{top:padT, right:0, left:0, bottom:0}},
      plugins:{legend:{display:false}, tooltip:{enabled:false}},
      scales:{
        x:{type:'linear', position:'bottom', min:0, max:1, ticks:{display:false}, grid:{display:false},
          border:{display:true, color:'#777', width:1}, afterFit:s => { s.height = padB; }},
        xt:{type:'linear', position:'top', min:0, max:1, ticks:{display:false}, grid:{display:false},
          border:{display:true, color:'#9a9a9a', width:1}, afterFit:s => { s.height = 0; }},
        y:{type:'linear', position:'left', min:c.ymin, max:c.ymax, ticks:{display:false}, grid:{display:false},
          border:{display:true, color:c.leftColor, width:1}, afterFit:s => { s.width = padL; }},
        yr:{type:'linear', position:'right', min:c.ymin, max:c.ymax,
          afterBuildTicks:s => { s.ticks = c.yTicks.map(v => ({value:v})); },
          ticks:{display:false},
          grid:{display:true, drawOnChartArea:false, drawTicks:true, tickLength:6, color:'#8a8a8a'},
          border:{display:true, color:'#9a9a9a', width:1}, afterFit:s => { s.width = padR; }}
      }
    }
  });
}

function legend(l, t, w, h, items, fs, ll, gap) {
  const box = document.createElement('div');
  box.style.cssText = `position:absolute;z-index:6;left:${l}px;top:${t}px;width:${w}px;height:${h}px;border:1px solid #555;box-sizing:border-box;background:#fff;`;
  const inner = document.createElement('div');
  inner.style.cssText = `position:absolute;left:${(w-2-(h-2))/2}px;top:${(h-2-(w-2))/2}px;width:${h-2}px;height:${w-2}px;transform:rotate(90deg);display:flex;align-items:center;justify-content:center;font:${fs}px ${SANS};color:#111;white-space:nowrap;line-height:1;`;
  items.forEach((it, i) => {
    const ln = document.createElement('span');
    ln.style.cssText = `display:inline-block;width:${ll}px;height:1.4px;background:${it[1]};margin:0 2px 0 ${i ? gap : 0}px;`;
    const tx = document.createElement('span');
    tx.textContent = it[0];
    inner.append(ln, tx);
  });
  box.appendChild(inner);
  document.body.appendChild(box);
}

// ---------------- BUILD ----------------
bandChart({l:62, t:41, r:307, b:448, padL:62, ymin:-8, ymax:5.5, yTicks:yTicksBulk, yPad:10, xPad:9,
  kTicks:kTicksA, kLabels:kLabelsBulk, kGroups:[kMainA, kLMA, kKHA], bands:bandsA, gap:gapA,
  dashes:[0, 2.29], gridColor:'#111', frame:'#111', thick:7});
dosChart({l:307, t:41, r:378, b:448, ymin:-8, ymax:5.5, yTicks:yTicksBulk, E:dosEA, total:dosTotA, leftColor:'#111',
  series:[[dosNA, COL.N], [dosCA, COL.C], [dosBrA, COL.Br], [dosLiA, COL.Li], [dosHA, COL.H]]});

bandChart({l:442, t:39, r:690, b:448, padL:60, ymin:-8, ymax:5.5, yTicks:yTicksBulk, yPad:10, xPad:9,
  kTicks:kTicksB, kLabels:kLabelsBulk, kGroups:[kMainB, kLMB, kKHB], bands:bandsB, gap:gapB,
  dashes:[0, 2.46], gridColor:'#111', frame:'#111', thick:7});
dosChart({l:690, t:39, r:775, b:448, ymin:-8, ymax:5.5, yTicks:yTicksBulk, E:dosEB, total:dosTotB, leftColor:'#111',
  series:[[dosNB, COL.N], [dosCB, COL.C], [dosHB, COL.H]]});

bandChart({l:93, t:568, r:251, b:973, padL:93, ymin:-4, ymax:6.8, yTicks:yTicksC, yPad:11, xPad:10,
  kTicks:kTicksC, kLabels:kLabelsMono, kGroups:[kMainC], bands:bandsC, gap:gapC,
  dashes:[], gridColor:'#b4b4b4', frame:'#a0a0a0', thick:-1});
dosChart({l:251, t:568, r:337, b:973, ymin:-4, ymax:6.8, yTicks:yTicksC, E:dosEC, total:dosTotC, leftColor:'#5a3a7a',
  series:[[dosNC, COL.N], [dosCC, COL.C], [dosBrC, COL.Br], [dosLiC, COL.Li], [dosHC, COL.H]]});

bandChart({l:472, t:562, r:634, b:974, padL:60, ymin:-4, ymax:6.9, yTicks:yTicksD, yPad:10, xPad:10,
  kTicks:kTicksD, kLabels:kLabelsMono, kGroups:[kMainD], bands:bandsD, gap:gapD,
  dashes:[0, 3.19], gridColor:'#b4b4b4', frame:'#a0a0a0', thick:-1});
dosChart({l:634, t:562, r:725, b:974, ymin:-4, ymax:6.9, yTicks:yTicksD_right, E:dosED, total:dosTotD, leftColor:'#111',
  series:[[dosND, COL.N], [dosCD, COL.C], [dosHD, COL.H]]});

legend(356, 41, 21, 185, [['H',COL.H],['Li',COL.Li],['C',COL.C],['N',COL.N],['Br',COL.Br]], 15, 18, 5);
legend(736, 46, 28, 120, [['H',COL.H],['C',COL.C],['N',COL.N]], 17, 20, 5);
legend(304, 574, 26, 214, [['H',COL.H],['Li',COL.Li],['C',COL.C],['N',COL.N],['Br',COL.Br]], 17, 22, 5);
legend(692, 572, 26, 126, [['H',COL.H],['C',COL.C],['N',COL.N]], 17, 22, 4);
</script>
</body></html>
